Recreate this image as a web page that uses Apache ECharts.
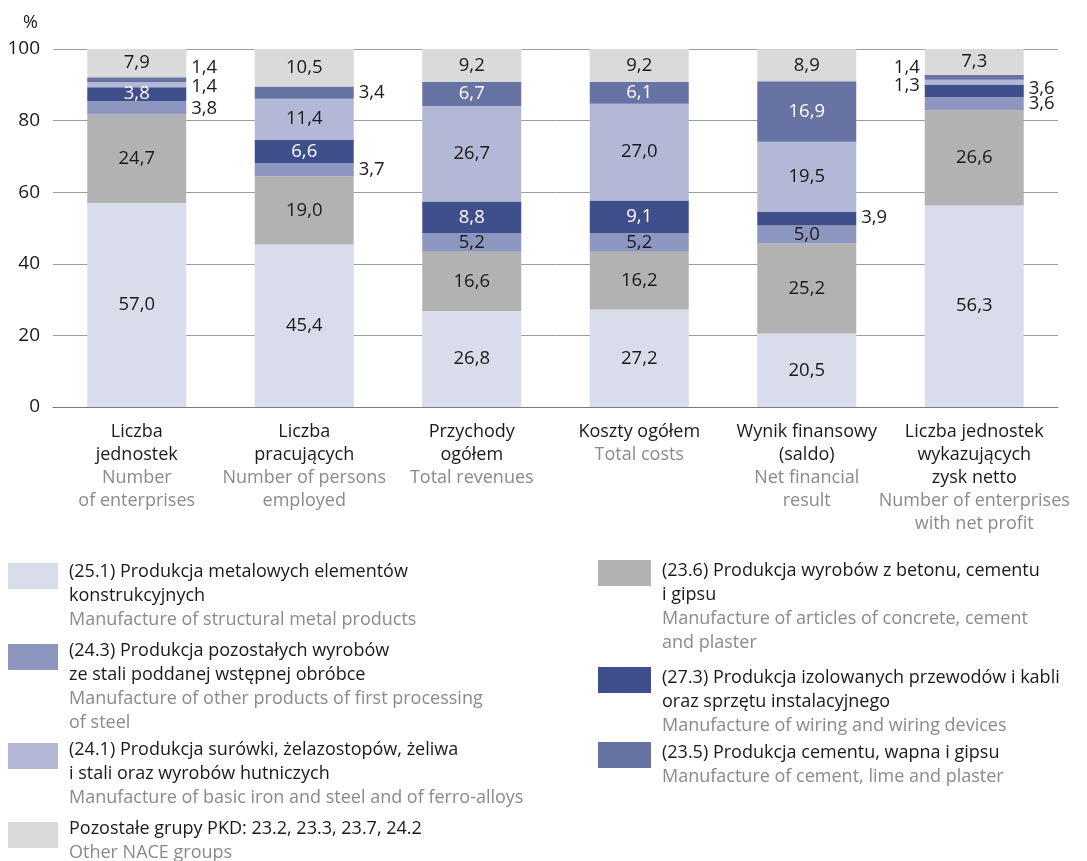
<!DOCTYPE html>
<html><head><meta charset="utf-8">
<script src="https://cdn.jsdelivr.net/npm/echarts@6/dist/echarts.min.js"></script>
<style>html,body{margin:0;padding:0;background:#fff}#c{width:1087px;height:861px}</style>
</head><body><div id="c"></div>
<script>
// ---- data ----
const categoriesPl = ['Liczba\njednostek', 'Liczba\npracujących', 'Przychody\nogółem', 'Koszty ogółem', 'Wynik finansowy\n(saldo)', 'Liczba jednostek\nwykazujących\nzysk netto'];
const categoriesEn = ['Number\nof enterprises', 'Number of persons\nemployed', 'Total revenues', 'Total costs', 'Net financial\nresult', 'Number of enterprises\nwith net profit'];
const seriesNames = ['(25.1)', '(23.6)', '(24.3)', '(27.3)', '(24.1)', '(23.5)', 'Pozostałe'];
const v251 = [57.0, 45.4, 26.8, 27.2, 20.5, 56.3];
const v236 = [24.7, 19.0, 16.6, 16.2, 25.2, 26.6];
const v243 = [3.8, 3.7, 5.2, 5.2, 5.0, 3.6];
const v273 = [3.8, 6.6, 8.8, 9.1, 3.9, 3.6];
const v241 = [1.4, 11.4, 26.7, 27.0, 19.5, 1.3];
const v235 = [1.4, 3.4, 6.7, 6.1, 16.9, 1.4];
const vOther = [7.9, 10.5, 9.2, 9.2, 8.9, 7.3];
const yTicks = [0, 20, 40, 60, 80, 100];

const legendPl = [
  '(25.1) Produkcja metalowych elementów\nkonstrukcyjnych',
  '(24.3) Produkcja pozostałych wyrobów\nze stali poddanej wstępnej obróbce',
  '(24.1) Produkcja surówki, żelazostopów, żeliwa\ni stali oraz wyrobów hutniczych',
  'Pozostałe grupy PKD: 23.2, 23.3, 23.7, 24.2',
  '(23.6) Produkcja wyrobów z betonu, cementu\ni gipsu',
  '(27.3) Produkcja izolowanych przewodów i kabli\noraz sprzętu instalacyjnego',
  '(23.5) Produkcja cementu, wapna i gipsu'
];
const legendEn = [
  'Manufacture of structural metal products',
  'Manufacture of other products of first processing\nof steel',
  'Manufacture of basic iron and steel and of ferro-alloys',
  'Other NACE groups',
  'Manufacture of articles of concrete, cement\nand plaster',
  'Manufacture of wiring and wiring devices',
  'Manufacture of cement, lime and plaster'
];
const legendSeries = [0, 2, 4, 6, 1, 3, 5];

// ---- styles ----
const FONT = '"Open Sans", "Noto Sans", sans-serif';
const colors = ['#d9dcea', '#b2b2b2', '#8c96bf', '#3f4f8c', '#b3b8d6', '#6673a3', '#dadada'];
const whiteLabel = [false, false, false, true, false, true, false];
const allValues = [v251, v236, v243, v273, v241, v235, vOther];
// outside label placements: "series-category": [position, dx, dy]
const outside = {
  '2-0': ['right', 0, 1], '4-0': ['right', 0, 2], '5-0': ['right', 0, -12],
  '2-1': ['right', 0, 0], '5-1': ['right', 0, 0],
  '3-4': ['right', 0, -1],
  '2-5': ['right', 0, 0], '3-5': ['right', 0, -2], '4-5': ['left', 0, 4], '5-5': ['left', 0, -10]
};
const legendLayout = [
  {x: 8, y: 563, w: 50, tx: 69, ty: 563},
  {x: 8, y: 644, w: 50, tx: 69, ty: 642},
  {x: 8, y: 743, w: 50, tx: 69, ty: 741},
  {x: 8, y: 822, w: 50, tx: 69, ty: 820},
  {x: 598, y: 560, w: 53, tx: 662, ty: 562},
  {x: 598, y: 667, w: 53, tx: 662, ty: 669},
  {x: 598, y: 742, w: 53, tx: 662, ty: 744}
];

const fmt = v => v.toFixed(1).replace('.', ',');
const tagLines = (s, tag) => s.split('\n').map(l => '{' + tag + '|' + l + '}').join('\n');

const series = allValues.map((vals, si) => ({
  name: seriesNames[si],
  type: 'bar',
  stack: 'total',
  barWidth: 99,
  itemStyle: {color: colors[si]},
  emphasis: {disabled: true},
  label: {
    show: true,
    position: 'inside',
    fontFamily: FONT,
    fontSize: 18.5,
    color: whiteLabel[si] ? '#ffffff' : '#1a1a1a',
    formatter: p => fmt(p.value)
  },
  data: vals.map((v, ci) => {
    const o = outside[si + '-' + ci];
    if (!o) return v;
    return {value: v, label: {position: o[0], distance: 5, offset: [o[1], o[2]], color: '#1a1a1a'}};
  })
}));

const graphic = [];
legendLayout.forEach((L, i) => {
  graphic.push({type: 'rect', left: L.x, top: L.y, shape: {width: L.w, height: 26}, style: {fill: colors[legendSeries[i]]}, silent: true});
  graphic.push({
    type: 'text', left: L.tx, top: L.ty, silent: true,
    style: {
      text: tagLines(legendPl[i], 'pl') + '\n' + tagLines(legendEn[i], 'en'),
      rich: {
        pl: {fill: '#1a1a1a', fontSize: 18, fontFamily: FONT, lineHeight: 24},
        en: {fill: '#8a8a8a', fontSize: 18, fontFamily: FONT, lineHeight: 24}
      }
    }
  });
});

const chart = echarts.init(document.getElementById('c'), null, {renderer: 'canvas'});
chart.setOption({
  animation: false,
  backgroundColor: '#ffffff',
  textStyle: {fontFamily: FONT},
  grid: {left: 53, right: 29, top: 49, bottom: 454, containLabel: false},
  xAxis: {
    type: 'category',
    data: categoriesPl,
    axisTick: {show: false},
    axisLine: {show: true, lineStyle: {color: '#7a7a7a', width: 1}},
    axisLabel: {
      interval: 0,
      margin: 13,
      formatter: (val, idx) => tagLines(categoriesPl[idx], 'pl') + '\n' + tagLines(categoriesEn[idx], 'en'),
      rich: {
        pl: {color: '#1a1a1a', fontSize: 18, fontFamily: FONT, lineHeight: 23, align: 'center'},
        en: {color: '#8a8a8a', fontSize: 18, fontFamily: FONT, lineHeight: 23, align: 'center'}
      }
    }
  },
  yAxis: {
    type: 'value',
    min: yTicks[0],
    max: yTicks[yTicks.length - 1],
    interval: yTicks[1] - yTicks[0],
    name: '%',
    nameLocation: 'end',
    nameGap: 17,
    nameTextStyle: {color: '#1a1a1a', fontSize: 18, fontFamily: FONT, align: 'right', padding: [0, 15, 0, 0]},
    axisLine: {show: false},
    axisTick: {show: false},
    axisLabel: {color: '#1a1a1a', fontSize: 19, fontFamily: FONT, margin: 13},
    splitLine: {show: true, lineStyle: {color: '#9d9d9d', width: 1}}
  },
  series: series,
  graphic: graphic
});
</script>
</body></html>
